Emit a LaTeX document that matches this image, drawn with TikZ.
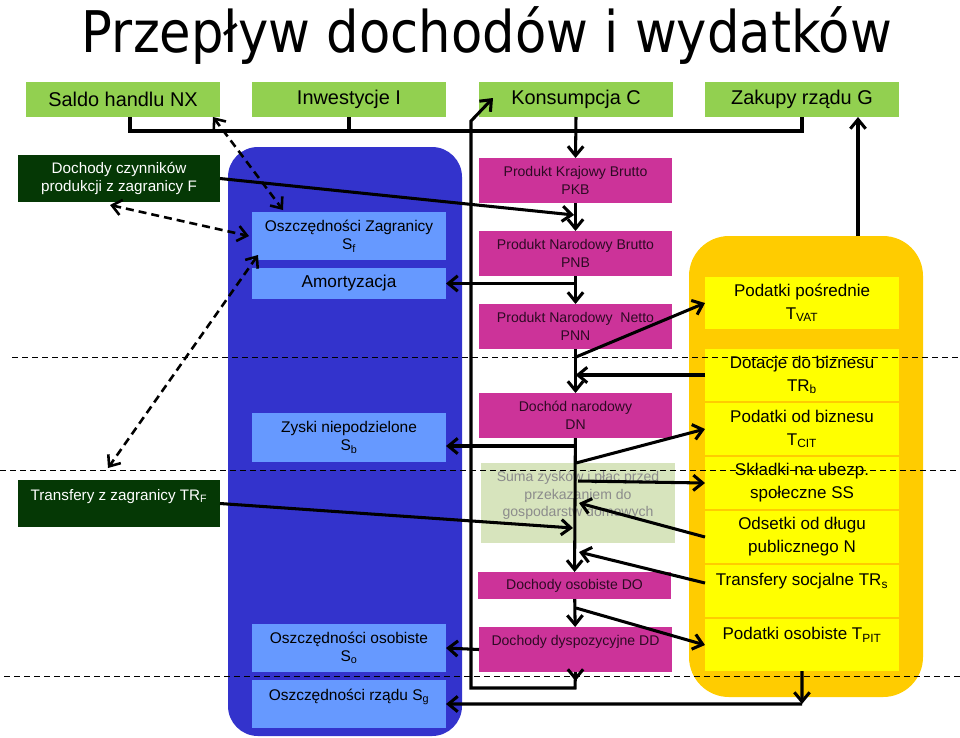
\documentclass[tikz,border=0pt]{standalone}
\usepackage{graphicx}
\usepackage{fontspec}
\setmainfont{Liberation Sans}
\newfontfamily\titlefont{DejaVu Sans}
\usetikzlibrary{positioning,arrows.meta}
\definecolor{lgreen}{HTML}{92D050}
\definecolor{dgreen}{HTML}{053805}
\definecolor{poolblue}{HTML}{3333CC}
\definecolor{sblue}{HTML}{6699FF}
\definecolor{mag}{HTML}{CC3399}
\definecolor{maroon}{HTML}{2E0A24}
\definecolor{gold}{HTML}{FFCC00}
\definecolor{yel}{HTML}{FFFF00}
\definecolor{sumgreen}{HTML}{D7E4BD}
\definecolor{sumtext}{HTML}{8C8C8C}

\begin{document}
\begin{tikzpicture}[x=0.3mm, y=-0.3mm,
  >={Straight Barb[length=2.8mm,width=4.6mm]},
  every path/.style={line width=2.6pt},
  box/.style={inner sep=0pt, outer sep=0pt, anchor=north west, align=center, minimum width=58.2mm},
  demand/.style={box, fill=lgreen, minimum height=10.5mm, font=\fontsize{17}{20}\selectfont},
  abroad/.style={box, fill=dgreen, text=white, minimum width=60.6mm, minimum height=14.1mm, font=\fontsize{13}{15.4}\selectfont},
  saving/.style={box, fill=sblue, minimum height=14.4mm, font=\fontsize{13.2}{15.4}\selectfont},
  income/.style={box, fill=mag, text=maroon, minimum width=57.9mm, minimum height=13.5mm, font=\fontsize{12}{15.4}\selectfont},
  sumbox/.style={box, fill=sumgreen, text=sumtext, minimum height=24mm, font=\fontsize{12}{15}\selectfont},
  tax/.style={box, fill=yel, minimum height=15.6mm, font=\fontsize{14.5}{19.5}\selectfont},
  pool/.style={inner sep=0pt, outer sep=0pt, anchor=north west, minimum width=70.2mm},
  sep/.style={line width=0.8pt, dash pattern=on 1.8mm off 1.2mm},
  link/.style={<->, line width=2.2pt, dash pattern=on 2.4mm off 1.5mm}]
\useasboundingbox (0,0) rectangle (960,737);

\node[anchor=base] (title) at (487,52) {\titlefont\fontsize{49}{55}\selectfont\resizebox{243mm}{\height}{Przepływ dochodów i wydatków}};

% popyt
\node[demand] (nx) at (26,82) {Saldo handlu NX};
\node[demand] (inv) at (252,82) {Inwestycje I};
\node[demand] (kons) at (479,82) {Konsumpcja C};
\node[demand] (gov) at (705,82) {Zakupy rządu G};

% zagranica
\node[abroad] (czyn) at (18,155) {Dochody czynników\\produkcji z zagranicy F};
\node[abroad] (trf) at (18,480) {Transfery z zagranicy TR\textsubscript{F}\\\mbox{}};

% oszczednosci
\node[pool, fill=poolblue, rounded corners=9mm, minimum height=176.7mm] (savings) at (228,147) {};
\node[saving] (sf) at (252,212) {Oszczędności Zagranicy\\S\textsubscript{f}};
\node[saving, minimum height=9.3mm, font=\fontsize{14.7}{17}\selectfont] (am) at (252,268) {Amortyzacja};
\node[saving, minimum height=14.7mm] (sb) at (252,413) {Zyski niepodzielone\\S\textsubscript{b}};
\node[saving] (so) at (252,624) {Oszczędności osobiste\\S\textsubscript{o}};
\node[saving] (sg) at (252,680) {Oszczędności rządu S\textsubscript{g}\\\mbox{}};

% dochody
\node[income] (pkb) at (479,158) {Produkt Krajowy Brutto\\PKB};
\node[income, below=8.4mm of pkb] (pnb) {Produkt Narodowy Brutto\\PNB};
\node[income, below=8.4mm of pnb] (pnn) {Produkt Narodowy\ \ Netto\\PNN};
\node[income, below=13.2mm of pnn] (dn) {Dochód narodowy\\DN};
\node[sumbox] (suma) at (481,463) {Suma zysków i płac przed\\przekazaniem do\\gospodarstw domowych\\\mbox{}};
\node[income, minimum height=8.1mm] (do) at (478,572) {Dochody osobiste DO};
\node[income] (dd) at (479,627) {Dochody dyspozycyjne DD\\\mbox{}};

% budzet
\node[pool, fill=gold, rounded corners=12mm, minimum height=138.3mm] (budget) at (689,236) {};
\node[tax] (vat) at (705,277) {Podatki pośrednie\\T\textsubscript{VAT}};
\node[tax, below=6mm of vat] (trb) {Dotacje do biznesu\\TR\textsubscript{b}};
\node[tax, below=0.6mm of trb] (cit) {Podatki od biznesu\\T\textsubscript{CIT}};
\node[tax, below=0.6mm of cit] (ss) {Składki na ubezp.\\społeczne SS};
\node[tax, below=0.6mm of ss] (n) {Odsetki od długu\\publicznego N};
\node[tax, below=0.6mm of n] (trs) {Transfery socjalne TR\textsubscript{s}\\\mbox{}};
\node[tax, below=0.6mm of trs] (pit) {Podatki osobiste T\textsubscript{PIT}\\\mbox{}};

\coordinate (bus) at (0,131);
\coordinate (jf) at (574,215);
\coordinate (jvat) at (576,357);
\coordinate (jsb) at (576,446);
\coordinate (jcit) at (576,463);
\coordinate (jss) at (578,481);
\coordinate (jn) at (579,503);
\coordinate (jtrf) at (573,528);
\coordinate (jtrs) at (579,552);
\coordinate (jpit) at (576,608);
\coordinate (jdd) at (575,688);
\coordinate (lft) at (471,121);
\coordinate (ckin) at (493,98);
\coordinate (jg) at (802,704);
\coordinate (gtop) at (858,236);

% przeplywy
\draw ([xshift=2.1mm]nx.south) |- (gov.south |- bus) -- (gov.south);
\draw (inv.south) -- (inv.south |- bus);
\draw[->] (kons.south) -- (pkb.north);
\draw[->] (czyn.east) -- (jf);
\draw[->] (pkb) -- (pnb);
\draw[->] (pnb.south |- am.east) -- (am.east);
\draw[->] (pnb) -- (pnn);
\draw[->] (pnn) -- (dn);
\draw[->] (jvat) -- (vat.west);
\draw[->] (trb.west) -- (trb.west -| pnn.south);
\draw[->] (jsb) -- (jsb -| sb.east);
\draw[->] (dn) -- (do);
\draw[->] (jcit) -- (cit.west);
\draw[->] (jss) -- (ss.west);
\draw[->] (n.west) -- (jn);
\draw[->] (trf.east) -- (jtrf);
\draw[->] ([yshift=2.4mm]trs.west) -- (jtrs);
\draw[->] (do) -- (dd);
\draw[->] (jpit) -- (pit.west);
\draw[->] (dd.west) -- (so.east);
\draw[->] (dd.south) -- ++(0,9);
\draw[->] (dd.south) -- (jdd) -| (lft) -- (ckin);
\draw[->] (pit.south) -- (jg);
\draw[->] (jg) -- (sg.east);
\draw[->] (gtop) -- (gtop |- gov.south);

% powiazania z zagranica
\draw[link] ([xshift=-2.1mm]nx.south east) -- ([xshift=9.3mm,yshift=0.6mm]sf.north west);
\draw[link] ([xshift=-2.7mm,yshift=-0.9mm]czyn.south) -- ([xshift=-0.9mm]sf.west);
\draw[link] ([xshift=1.8mm,yshift=1.5mm]sf.south west) -- ([xshift=-3.3mm,yshift=3.6mm]trf.north);

\draw[sep] (12,357) -- (960,357);
\draw[sep] (0,470) -- (960,470);
\draw[sep] (4,676) -- (960,676);
\end{tikzpicture}
\end{document}
